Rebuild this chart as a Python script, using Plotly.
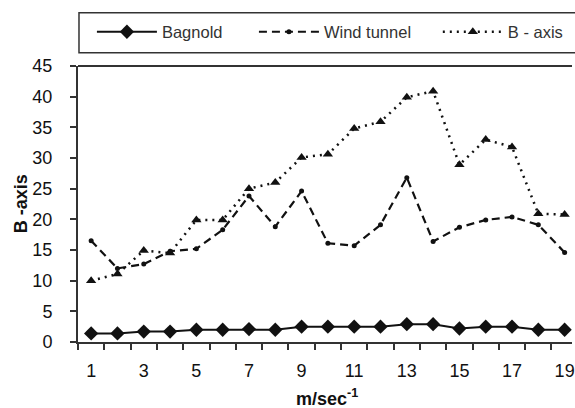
import plotly.graph_objects as go

speeds = list(range(1, 20))
bagnold = [1.4, 1.4, 1.7, 1.7, 2.0, 2.0, 2.1, 2.0, 2.5, 2.5, 2.5, 2.5, 2.9, 2.9, 2.2, 2.5, 2.5, 2.0, 2.0]
wind_tunnel = [16.5, 12.0, 12.7, 14.8, 15.2, 18.3, 23.8, 18.8, 24.6, 16.1, 15.7, 19.1, 26.8, 16.4, 18.7, 19.9, 20.4, 19.1, 14.6]
b_axis = [10.0, 11.1, 14.9, 14.5, 19.9, 19.9, 25.0, 26.0, 30.1, 30.6, 34.8, 35.9, 39.9, 40.9, 28.9, 33.0, 31.8, 20.9, 20.8]
x_ticks = [1, 3, 5, 7, 9, 11, 13, 15, 17, 19]
y_ticks = [0, 5, 10, 15, 20, 25, 30, 35, 40, 45]

INK = "#111111"
AXIS = "#333333"
FONT = "Liberation Sans, Arial, sans-serif"

# plot area in pixels
L, R, T, B = 78, 0, 66, 66
W, H = 575, 408
PW, PH = W - L - R, H - T - B


def px_x(p):
    return (p - L) / PW


def px_y(p):
    return (H - B - p) / PH


fig = go.Figure()
fig.add_trace(go.Scatter(
    x=speeds, y=bagnold, name="Bagnold", mode="lines+markers",
    line=dict(color=INK, width=2),
    marker=dict(symbol="diamond", size=11, color=INK),
    legend="legend",
))
fig.add_trace(go.Scatter(
    x=speeds, y=wind_tunnel, name="Wind tunnel", mode="lines+markers",
    line=dict(color=INK, width=2.2, dash="8px,5px"),
    marker=dict(symbol="circle", size=5, color=INK),
    legend="legend2",
))
fig.add_trace(go.Scatter(
    x=speeds, y=b_axis, name="B - axis", mode="lines+markers",
    line=dict(color=INK, width=2.5, dash="2px,5px"),
    marker=dict(symbol="triangle-up", size=9, color=INK),
    legend="legend3",
))

leg_common = dict(
    orientation="h", xanchor="left", y=px_y(32), yanchor="middle",
    font=dict(family=FONT, size=16.5, color="#333333"),
    bgcolor="rgba(0,0,0,0)", itemwidth=60, borderwidth=0,
)

fig.update_layout(
    width=W, height=H,
    margin=dict(l=L, r=R, t=T, b=B),
    paper_bgcolor="white", plot_bgcolor="white",
    font=dict(family=FONT, size=18, color=INK),
    showlegend=True,
    legend=dict(x=px_x(92), **leg_common),
    legend2=dict(x=px_x(255), **leg_common),
    legend3=dict(x=px_x(440), **leg_common),
    xaxis=dict(
        range=[0.5, 19.28], tickmode="array", tickvals=x_ticks,
        ticktext=[str(v) for v in x_ticks], ticks="", showgrid=False,
        showline=True, linecolor=AXIS, linewidth=2, zeroline=False,
        tickfont=dict(family=FONT, size=18, color=INK),
        ticklabelstandoff=11, ticklabeloverflow="allow",
        minor=dict(tick0=0.5, dtick=1, ticks="outside", ticklen=6,
                   tickcolor=AXIS, tickwidth=1.5, showgrid=False),
    ),
    yaxis=dict(
        range=[0, 45], tickmode="array", tickvals=y_ticks,
        ticks="outside", ticklen=6, tickcolor=AXIS, tickwidth=1.5,
        showgrid=False, showline=True, linecolor=AXIS, linewidth=2,
        zeroline=False, tickfont=dict(family=FONT, size=18, color=INK),
        ticklabelstandoff=14,
    ),
    shapes=[
        dict(type="line", xref="paper", yref="paper", x0=0, x1=1, y0=1, y1=1,
             line=dict(color=AXIS, width=2)),
        dict(type="rect", xref="paper", yref="paper", x0=px_x(79), x1=px_x(590),
             y0=px_y(52.7), y1=px_y(12.7), line=dict(color=AXIS, width=1.5)),
    ],
    annotations=[
        dict(text="<b>m/sec<sup>-1</sup></b>", xref="paper", yref="paper",
             x=px_x(329), y=px_y(397), xanchor="center", yanchor="middle",
             showarrow=False, font=dict(family=FONT, size=18, color=INK)),
        dict(text="<b>B -axis</b>", xref="paper", yref="paper", textangle=-90,
             x=px_x(21), y=px_y(204), xanchor="center", yanchor="middle",
             showarrow=False, font=dict(family=FONT, size=18, color=INK)),
    ],
)

fig.write_html("out.html", config={"displayModeBar": False},
               post_script="document.body.style.margin='0';")
